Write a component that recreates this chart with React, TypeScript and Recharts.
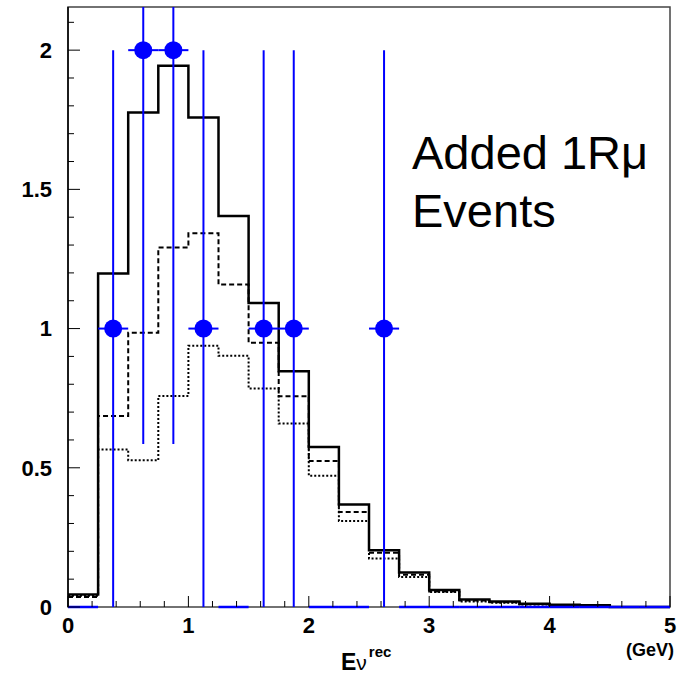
import { ComposedChart, Line, Scatter, ErrorBar, XAxis, YAxis, ReferenceArea } from 'recharts';

// Reconstructed-energy histogram, 0.25 GeV bins from 0 to 5 GeV
const BIN_WIDTH = 0.25;
const X_MAX = 5;
const Y_MAX = 2.155;

// MC expectations per bin (solid / dashed / dotted)
const solidMC = [0.045, 1.198, 1.776, 1.944, 1.758, 1.404, 1.092, 0.847, 0.575, 0.368, 0.204, 0.124, 0.061, 0.027, 0.02, 0.012, 0.008, 0.006, 0, 0];
const dashedMC = [0.036, 0.686, 0.985, 1.291, 1.342, 1.158, 0.949, 0.757, 0.524, 0.341, 0.195, 0.116, 0.056, 0.023, 0.017, 0.01, 0.007, 0.005, 0, 0];
const dottedMC = [0.04, 0.566, 0.527, 0.758, 0.938, 0.902, 0.785, 0.659, 0.471, 0.309, 0.174, 0.108, 0.054, 0.02, 0.015, 0.009, 0.006, 0.004, 0, 0];

// observed events per bin
const dataCounts = [0, 1, 2, 2, 1, 0, 1, 1, 0, 0, 1, 0, 0, 0, 0, 0, 0, 0, 0, 0];

const yTicks = Array.from({ length: 22 }, (_, i) => i / 10);
const xTicks = Array.from({ length: 26 }, (_, i) => i / 5);

const BLUE = '#0000ff';
const FONT = '"Liberation Sans", Arial, sans-serif';

// step-line tables: one point per lower bin edge, plus the closing edge
const stepTable = (vals: number[]) =>
  vals.map((v, i) => ({ x: i * BIN_WIDTH, y: v })).concat([{ x: X_MAX, y: vals[vals.length - 1] }]);

// sqrt(n) errors, upper arm cut at the frame top
const filledBins = dataCounts
  .map((n, i) => ({ x: (i + 0.5) * BIN_WIDTH, y: n, ex: BIN_WIDTH / 2, ey: [Math.sqrt(n), Math.min(Math.sqrt(n), Y_MAX - n)] }))
  .filter((d) => d.y > 0);
const emptyBins = dataCounts
  .map((n, i) => ({ x: (i + 0.5) * BIN_WIDTH, y: n, ex: BIN_WIDTH / 2 }))
  .filter((d) => d.y === 0);

const isMajor = (v: number, step: number) => Math.abs(v / step - Math.round(v / step)) < 1e-6;

const YTick = (props: any) => {
  const { x, payload } = props;
  const y = payload.coordinate;
  const major = isMajor(payload.value, 0.5);
  return (
    <g>
      <line x1={x} x2={x + (major ? 12 : 6)} y1={y} y2={y} stroke="#000" strokeWidth={1} />
      {major && (
        <text x={x - 16} y={y} dy="0.36em" textAnchor="end" fontFamily={FONT} fontWeight="bold" fontSize={22} fill="#000">
          {payload.value}
        </text>
      )}
    </g>
  );
};

const XTick = (props: any) => {
  const { y, payload } = props;
  const x = payload.coordinate;
  const major = isMajor(payload.value, 1);
  return (
    <g>
      <line x1={x} x2={x} y1={y} y2={y - (major ? 11 : 6)} stroke="#000" strokeWidth={1} />
      {major && (
        <text x={x} y={y + 26} textAnchor="middle" fontFamily={FONT} fontWeight="bold" fontSize={22} fill="#000">
          {payload.value}
        </text>
      )}
    </g>
  );
};

const Dot = (props: any) => <circle cx={props.cx} cy={props.cy} r={9} fill={BLUE} />;
const NoDot = () => <g />;

export default function App() {
  return (
    <div style={{ position: 'absolute', left: 0, top: 0, width: 679, height: 674, background: '#fff' }}>
      <ComposedChart width={679} height={674} margin={{ top: 7, right: 9, bottom: 37, left: 8 }}>
        <XAxis
          dataKey="x"
          type="number"
          domain={[0, X_MAX]}
          ticks={xTicks}
          interval={0}
          height={30}
          tickSize={0}
          tickMargin={0}
          tickLine={false}
          axisLine={false}
          tick={<XTick />}
        />
        <YAxis
          type="number"
          domain={[0, Y_MAX]}
          ticks={yTicks}
          interval={0}
          width={60}
          tickSize={0}
          tickMargin={0}
          tickLine={false}
          axisLine={{ stroke: '#000', strokeWidth: 1.5 }}
          tick={<YTick />}
        />
        {/* frame; its bottom edge doubles as the x axis line, under the data */}
        <ReferenceArea x1={0} x2={X_MAX} y1={0} y2={Y_MAX} fill="none" stroke="#444" strokeWidth={1.5} />

        <Line data={stepTable(dottedMC)} dataKey="y" type="stepAfter" stroke="#000" strokeWidth={2} strokeDasharray="2 2" dot={false} isAnimationActive={false} />
        <Line data={stepTable(dashedMC)} dataKey="y" type="stepAfter" stroke="#000" strokeWidth={2} strokeDasharray="5 3" dot={false} isAnimationActive={false} />
        <Line data={stepTable(solidMC)} dataKey="y" type="stepAfter" stroke="#000" strokeWidth={2.5} dot={false} isAnimationActive={false} />

        <Scatter data={emptyBins} dataKey="y" shape={<NoDot />} isAnimationActive={false}>
          <ErrorBar dataKey="ex" direction="x" width={0} stroke={BLUE} strokeWidth={2.5} />
        </Scatter>
        <Scatter data={filledBins} dataKey="y" shape={<Dot />} isAnimationActive={false}>
          <ErrorBar dataKey="ey" direction="y" width={0} stroke={BLUE} strokeWidth={2} />
          <ErrorBar dataKey="ex" direction="x" width={0} stroke={BLUE} strokeWidth={2} />
        </Scatter>
      </ComposedChart>

      <svg width={679} height={674} style={{ position: 'absolute', left: 0, top: 0, pointerEvents: 'none' }}>
        <text x={412} y={169} fontFamily={FONT} fontSize={47} fill="#000">
          Added 1Rμ
        </text>
        <text x={412} y={227} fontFamily={FONT} fontSize={47} fill="#000">
          Events
        </text>
        <text x={341} y={670} fontFamily={FONT} fontWeight="bold" fontSize={23} fill="#000">
          E<tspan fontWeight="normal" fontSize={21}>ν</tspan>
          <tspan dx={2} dy={-13} fontSize={15}>rec</tspan>
        </text>
        <text x={674} y={656} textAnchor="end" fontFamily={FONT} fontWeight="bold" fontSize={18} fill="#000">
          (GeV)
        </text>
      </svg>
    </div>
  );
}
